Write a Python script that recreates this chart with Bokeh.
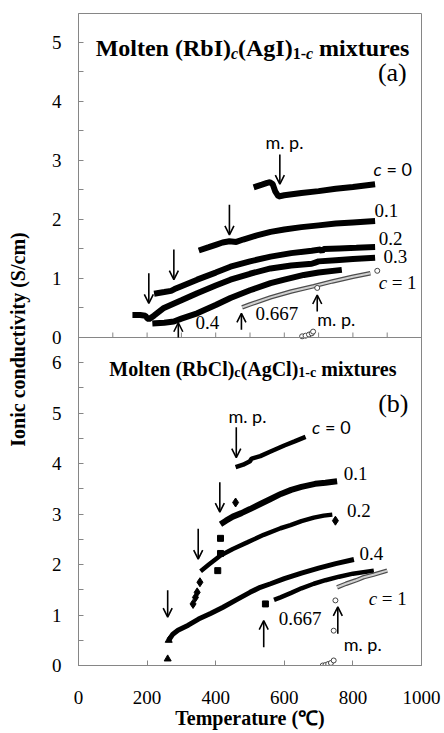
from bokeh.plotting import figure
from bokeh.models import Range1d, FixedTicker, Arrow, OpenHead, Span, ColumnDataSource
from bokeh.core.properties import value
from bokeh.embed import file_html
from bokeh.resources import INLINE

# ---------------- panel (a): Molten (RbI)c(AgI)1-c ----------------
a_c0_T = [519, 535, 550, 558, 566, 574, 583, 600, 650, 700, 750, 800, 856]
a_c0_s = [2.56, 2.59, 2.62, 2.63, 2.60, 2.47, 2.39, 2.41, 2.45, 2.48, 2.52, 2.55, 2.59]
a_c01_T = [359, 380, 400, 420, 440, 460, 480, 520, 560, 600, 650, 700, 750, 800, 856]
a_c01_s = [1.49, 1.53, 1.57, 1.61, 1.63, 1.62, 1.66, 1.73, 1.79, 1.83, 1.87, 1.90, 1.93, 1.95, 1.97]
a_c02_T = [229, 250, 270, 280, 300, 346, 400, 443, 500, 560, 620, 680, 705, 710, 715, 760, 810, 856]
a_c02_s = [0.75, 0.77, 0.79, 0.82, 0.87, 0.98, 1.10, 1.20, 1.29, 1.37, 1.43, 1.47, 1.49, 1.46, 1.50, 1.51, 1.52, 1.53]
a_c03_T = [166, 180, 195, 200, 205, 220, 249, 300, 346, 400, 443, 500, 560, 620, 680, 690, 700, 750, 800, 856]
a_c03_s = [0.38, 0.38, 0.37, 0.33, 0.31, 0.37, 0.50, 0.63, 0.75, 0.88, 0.98, 1.08, 1.17, 1.22, 1.25, 1.27, 1.29, 1.31, 1.33, 1.35]
a_c04_T = [224, 250, 278, 300, 346, 400, 443, 500, 560, 600, 657, 700, 759]
a_c04_s = [0.24, 0.25, 0.27, 0.32, 0.41, 0.55, 0.67, 0.80, 0.92, 0.98, 1.06, 1.10, 1.14]
a_c0667_T = [477, 500, 560, 620, 686, 740, 800, 851]
a_c0667_s = [0.51, 0.56, 0.68, 0.78, 0.87, 0.95, 1.03, 1.09]
a_c1_T = [652, 662, 672, 680, 684, 696, 871]
a_c1_s = [0.02, 0.03, 0.05, 0.07, 0.10, 0.84, 1.13]

a_arrow_x = [587, 440, 278, 205, 291, 475, 696]
a_arrow_y0 = [3.10, 2.25, 1.49, 1.09, 0.00, 0.13, 0.44]
a_arrow_y1 = [2.60, 1.74, 0.98, 0.58, 0.25, 0.41, 0.72]

a_num_x = [863, 875, 889, 341, 516]
a_num_y = [2.15, 1.67, 1.38, 0.26, 0.41]
a_num_t = ["0.1", "0.2", "0.3", "0.4", "0.667"]
a_mp_x = [545, 696]
a_mp_y = [3.31, 0.32]

# ---------------- panel (b): Molten (RbCl)c(AgCl)1-c ----------------
b_c0_T = [458, 480, 500, 505, 515, 530, 560, 600, 630, 662]
b_c0_s = [3.93, 3.98, 4.05, 4.10, 4.12, 4.15, 4.24, 4.36, 4.44, 4.53]
b_c01_T = [414, 430, 450, 475, 500, 530, 560, 590, 620, 650, 690, 720, 754]
b_c01_s = [2.80, 2.87, 2.95, 3.02, 3.10, 3.20, 3.30, 3.40, 3.48, 3.54, 3.60, 3.62, 3.65]
b_c01_sq_T = [406, 414, 414]
b_c01_sq_s = [1.88, 2.52, 2.22]
b_c02_T = [356, 380, 414, 450, 492, 540, 589, 618, 650, 686, 715, 740]
b_c02_s = [1.87, 2.00, 2.18, 2.31, 2.44, 2.59, 2.72, 2.78, 2.86, 2.93, 2.97, 2.99]
b_dia_T = [334, 341, 346, 354, 458, 749]
b_dia_s = [1.22, 1.35, 1.45, 1.65, 3.23, 2.87]
b_c04_T = [263, 275, 290, 320, 350, 385, 420, 460, 500, 530, 560, 600, 650, 700, 750, 803]
b_c04_s = [0.50, 0.62, 0.70, 0.80, 0.92, 1.03, 1.15, 1.30, 1.45, 1.55, 1.62, 1.72, 1.83, 1.93, 2.02, 2.10]
b_tri_T = [260, 263]
b_tri_s = [0.13, 0.50]
b_c0667_T = [570, 589, 620, 650, 686, 720, 760, 800, 861]
b_c0667_s = [1.30, 1.35, 1.44, 1.53, 1.62, 1.69, 1.76, 1.82, 1.88]
b_c0667_sq_T = [545]
b_c0667_sq_s = [1.22]
b_c1_T = [754, 780, 810, 832, 860, 900]
b_c1_s = [1.55, 1.62, 1.69, 1.75, 1.80, 1.88]
b_c1_pt_T = [712, 720, 728, 736, 744, 744, 749]
b_c1_pt_s = [0.00, 0.01, 0.03, 0.05, 0.10, 0.69, 1.29]

b_arrow_x = [460, 412, 349, 260, 540, 756]
b_arrow_y0 = [4.72, 3.63, 2.71, 1.49, 0.36, 0.63]
b_arrow_y1 = [4.12, 3.04, 2.11, 0.96, 0.89, 1.16]

b_num_x = [773, 783, 819, 584]
b_num_y = [3.80, 3.07, 2.21, 0.94]
b_num_t = ["0.1", "0.2", "0.4", "0.667"]
b_mp_x = [437, 773]
b_mp_y = [4.95, 0.42]

# ---------------- axes ----------------
x_ticks = [0, 200, 400, 600, 800, 1000]
a_minor_x = [100, 200, 300, 400, 500, 600, 700, 800, 900]
ya_ticks = [0, 1, 2, 3, 4, 5]
yb_ticks = [0, 1, 2, 3, 4, 5, 6]

# ---------------- layout constants ----------------
PX_A, PX_B = 324, 328          # frame heights of the two panels
B_MAX, T_MAX = 6.5, 5.49
f = PX_B / (PX_A + PX_B)
k = (PX_A / T_MAX) / (PX_B / B_MAX)   # top-unit -> bottom-unit factor

GRAY = "#868686"
SERIF = "Liberation Serif"
SANS = "Lato"

p = figure(width=444, height=733, output_backend="svg", toolbar_location=None,
           x_range=Range1d(0, 1000), y_range=Range1d(0, B_MAX / f),
           min_border_left=78, min_border_right=23, min_border_top=13, min_border_bottom=68)
p.extra_y_ranges = {"top": Range1d(-T_MAX * f / (1 - f), T_MAX)}
p.grid.visible = False
p.outline_line_color = GRAY
p.background_fill_color = "white"

# x axis
xa = p.xaxis[0]
xa.ticker = FixedTicker(ticks=x_ticks, minor_ticks=[])
xa.major_tick_in = 5
xa.major_tick_out = 0
xa.minor_tick_line_color = None
xa.axis_line_color = GRAY
xa.major_tick_line_color = GRAY
xa.major_label_standoff = 25
xa.major_label_text_font = SERIF
xa.major_label_text_font_size = "19px"
xa.major_label_text_color = "black"
xa.axis_label = "Temperature (℃)"
xa.axis_label_text_font = SERIF
xa.axis_label_text_font_style = "bold"
xa.axis_label_text_font_size = "20px"
xa.axis_label_standoff = 0
xa.axis_label_text_color = "black"

# y axis: bottom ticks in primary units, top ticks converted
y_major = [float(t) for t in yb_ticks] + [round(B_MAX + t * k, 6) for t in ya_ticks]
y_minor = [t + 0.5 for t in yb_ticks if t + 0.5 < B_MAX] + \
          [round(B_MAX + (t + 0.5) * k, 6) for t in ya_ticks if t + 0.5 < T_MAX]
overrides = {}
for t in yb_ticks:
    overrides[float(t)] = str(t)
for t in ya_ticks:
    overrides[round(B_MAX + t * k, 6)] = str(t)

ya = p.yaxis[0]
ya.ticker = FixedTicker(ticks=y_major, minor_ticks=y_minor)
ya.major_label_overrides = overrides
ya.major_tick_in = 5
ya.major_tick_out = 0
ya.minor_tick_in = 5
ya.minor_tick_out = 0
ya.axis_line_color = GRAY
ya.major_tick_line_color = GRAY
ya.minor_tick_line_color = GRAY
ya.major_label_standoff = 17
ya.major_label_text_font = SERIF
ya.major_label_text_font_size = "19px"
ya.major_label_text_color = "black"
ya.axis_label = "Ionic conductivity (S/cm)"
ya.axis_label_text_font = SERIF
ya.axis_label_text_font_style = "bold"
ya.axis_label_text_font_size = "20px"
ya.axis_label_standoff = 20
ya.axis_label_text_color = "black"

# divider between panels
p.add_layout(Span(location=B_MAX, dimension="width", line_color=GRAY, line_width=1))
# upward ticks of panel (a) along the divider
p.ray(x=a_minor_x, y=[0] * len(a_minor_x), length=5, length_units="screen",
      angle=90, angle_units="deg", line_color=GRAY, line_width=1, y_range_name="top")

# ---------------- panel (a) data ----------------
for T, s in [(a_c0_T, a_c0_s), (a_c01_T, a_c01_s), (a_c02_T, a_c02_s),
             (a_c03_T, a_c03_s), (a_c04_T, a_c04_s)]:
    p.line(T, s, line_width=6, line_color="black", line_cap="square", y_range_name="top")
p.line(a_c0667_T, a_c0667_s, line_width=4.5, line_color="#4d4d4d", y_range_name="top")
p.line(a_c0667_T, a_c0667_s, line_width=2, line_color="#d0d0d0", y_range_name="top")
p.line(a_c1_T[:5], a_c1_s[:5], line_width=3, line_color="#555555", y_range_name="top")
p.scatter(a_c1_T, a_c1_s, marker="circle", size=5, fill_color="white",
          line_color="#444444", y_range_name="top")

# ---------------- panel (b) data ----------------
p.line(b_c0_T, b_c0_s, line_width=4.5, line_color="black")
p.line(b_c01_T, b_c01_s, line_width=6, line_color="black")
p.line(b_c02_T, b_c02_s, line_width=4.5, line_color="black")
p.line(b_c04_T, b_c04_s, line_width=5, line_color="black")
p.line(b_c0667_T, b_c0667_s, line_width=4.5, line_color="black")
p.scatter(b_c01_sq_T + b_c0667_sq_T, b_c01_sq_s + b_c0667_sq_s, marker="square", size=6,
          color="black")
p.scatter(b_dia_T, b_dia_s, marker="diamond", size=9, color="black")
p.scatter(b_tri_T, b_tri_s, marker="triangle", size=7, color="black")
p.line(b_c1_T, b_c1_s, line_width=4.5, line_color="#4d4d4d")
p.line(b_c1_T, b_c1_s, line_width=2, line_color="#d0d0d0")
p.scatter(b_c1_pt_T, b_c1_pt_s, marker="circle", size=5, fill_color="white", line_color="#444444")

# ---------------- arrows ----------------
src_a = ColumnDataSource(dict(x=a_arrow_x, y0=a_arrow_y0, y1=a_arrow_y1))
src_b = ColumnDataSource(dict(x=b_arrow_x, y0=b_arrow_y0, y1=b_arrow_y1))
p.add_layout(Arrow(end=OpenHead(size=9, line_width=1.6, line_color="black"),
                   x_start="x", y_start="y0", x_end="x", y_end="y1", source=src_a,
                   line_width=1.6, line_color="black", y_range_name="top"))
p.add_layout(Arrow(end=OpenHead(size=9, line_width=1.6, line_color="black"),
                   x_start="x", y_start="y0", x_end="x", y_end="y1", source=src_b,
                   line_width=1.6, line_color="black"))

# ---------------- labels ----------------
num_kw = dict(text_font=value(SERIF), text_font_size="19px", text_baseline="middle",
              text_align="left", text_color="black")
mp_kw = dict(text_font=value(SANS), text_font_size="18px", text_baseline="middle",
             text_align="left", text_color="black")

p.text(a_num_x, a_num_y, text=a_num_t, y_range_name="top", **num_kw)
p.text(a_mp_x, a_mp_y, text=["m. p."] * 2, y_range_name="top", **mp_kw)
p.text([860], [2.86], text=["c"], y_range_name="top", text_font_style="italic", **mp_kw)
p.text([860], [2.86], text=["= 0"], y_range_name="top", x_offset=13, **mp_kw)
p.text([875], [0.93], text=["c"], y_range_name="top", text_font_style="italic", **num_kw)
p.text([875], [0.93], text=["= 1"], y_range_name="top", x_offset=13, **num_kw)

p.text(b_num_x, b_num_y, text=b_num_t, **num_kw)
p.text(b_mp_x, b_mp_y, text=["m. p."] * 2, **mp_kw)
p.text([681], [4.72], text=["c"], text_font_style="italic", **mp_kw)
p.text([681], [4.72], text=["= 0"], x_offset=13, **mp_kw)
p.text([846], [1.32], text=["c"], text_font_style="italic", **num_kw)
p.text([846], [1.32], text=["= 1"], x_offset=13, **num_kw)

# titles built from pieces (main text + subscripts)
ttl = dict(text_font=value(SERIF), text_baseline="alphabetic", text_align="left",
           text_color="black")
title_a = [("Molten (RbI)", 0, 0, "24px", "bold"), ("c", 135.3, 5, "16px", "bold italic"),
           ("(AgI)", 142.4, 0, "24px", "bold"), ("1-", 197.0, 5, "16px", "bold"),
           ("c", 210.3, 5, "16px", "bold italic"), ("mixtures", 223.4, 0, "24px", "bold")]
for t, dx, dy, fs, st in title_a:
    p.text([50], [4.90], text=[t], x_offset=dx, y_offset=dy, text_font_size=fs,
           text_font_style=st, y_range_name="top", **ttl)
title_b = [("Molten (RbCl)", 0, 0, "20px"), ("c", 125.0, 4, "14px"),
           ("(AgCl)", 131.2, 0, "20px"), ("1-c", 189.0, 4, "14px"),
           ("mixtures", 211.9, 0, "20px")]
for t, dx, dy, fs in title_b:
    p.text([90], [5.88], text=[t], x_offset=dx, y_offset=dy, text_font_size=fs,
           text_font_style="bold", **ttl)

p.text([957], [4.49], text=["(a)"], y_range_name="top", text_font=value(SERIF),
       text_font_size="26px", text_align="right", text_baseline="alphabetic", text_color="black")
p.text([962], [5.19], text=["(b)"], text_font=value(SERIF),
       text_font_size="26px", text_align="right", text_baseline="alphabetic", text_color="black")

open("out.html", "w").write(file_html(p, INLINE))
